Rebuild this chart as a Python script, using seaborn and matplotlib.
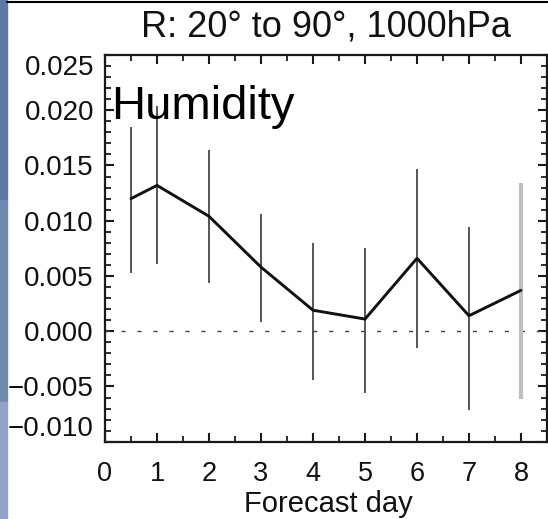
'''humidity forecast-day error plot'''
import pandas as pd
import seaborn as sns
import matplotlib.pyplot as plt
from matplotlib import ticker
from matplotlib.patches import Rectangle
from matplotlib.lines import Line2D

#region data
forecast_day = [0.5, 1, 2, 3, 4, 5, 6, 7, 8]
humidity_mean = [0.0120, 0.0132, 0.0104, 0.0058, 0.0019, 0.0011, 0.0066, 0.0014, 0.0037]
humidity_upper = [0.0185, 0.0204, 0.0164, 0.0106, 0.0080, 0.0075, 0.0147, 0.0094, 0.0134]
humidity_lower = [0.0053, 0.0061, 0.0044, 0.0008, -0.0044, -0.0056, -0.0015, -0.0071, -0.0061]

day_ticks = [0, 1, 2, 3, 4, 5, 6, 7, 8]
value_ticks = [-0.010, -0.005, 0.000, 0.005, 0.010, 0.015, 0.020, 0.025]

title = 'R: 20\u00b0 to 90\u00b0, 1000hPa'
panel_label = 'Humidity'
x_label = 'Forecast day'
#endregion

W, H = 548, 519

sns.set_style('ticks')
plt.rcParams['font.family'] = ['Liberation Sans', 'DejaVu Sans']

fig, ax = plt.subplots(figsize=(W / 100, H / 100), dpi=100)
fig.subplots_adjust(left=105 / W, right=547 / W, bottom=1 - 441.7 / H, top=1 - 55 / H)

df = pd.DataFrame({'day': forecast_day, 'mean': humidity_mean,
                   'lo': humidity_lower, 'hi': humidity_upper})

# zero line + error bars (last day drawn light grey)
ax.axhline(0, color='#444444', lw=1.0, ls=(0, (3, 8.5)), zorder=1)
ax.vlines(df['day'][:-1], df['lo'][:-1], df['hi'][:-1], color='#555555', lw=1.4, zorder=2)
ax.vlines(df['day'][-1:], df['lo'][-1:], df['hi'][-1:], color='#c0c0c0', lw=3, zorder=2)
sns.lineplot(data=df, x='day', y='mean', color='#111111', lw=2.1, ax=ax, zorder=3)

ax.set_xlim(0, 8.5)
ax.set_ylim(-0.010, 0.025)
ax.set_xticks(day_ticks)
ax.set_xticklabels([str(d) for d in day_ticks])
ax.set_yticks(value_ticks)
ax.set_yticklabels([f'{v:.3f}'.replace('-', '\u2212') for v in value_ticks])
ax.xaxis.set_minor_locator(ticker.MultipleLocator(0.5))
ax.yaxis.set_minor_locator(ticker.MultipleLocator(0.001))
ax.set_xlabel('')
ax.set_ylabel('')

ax.tick_params(which='both', direction='in', top=True, right=True, bottom=True, left=True,
               color='#1a1a1a')
ax.tick_params(which='major', length=6.5, width=1.5)
ax.tick_params(which='minor', length=4, width=1.3)
ax.tick_params(axis='x', which='major', labelsize=19.5, pad=14, labelcolor='#111111')
ax.tick_params(axis='y', which='major', labelsize=20, pad=8, labelcolor='#111111')
for s in ax.spines.values():
    s.set_linewidth(1.6)
    s.set_color('#1a1a1a')

ylabels = ax.get_yticklabels()
ylabels[0].set_va('bottom')
ylabels[-1].set_va('top')

ax.set_title(title, fontsize=26, pad=13, color='#111111')
fig.text(111 / W, 1 - 119 / H, panel_label, fontsize=34, ha='left', va='baseline', color='black')
fig.text(328.5 / W, 1 - 511.7 / H, x_label, fontsize=21, ha='center', va='baseline', color='#111111')

# slide remnants: blue strip on the left, border on top
for y0, y1, c in [(0, 200, '#5b79a4'), (200, 402, '#7089b0'), (402, 519, '#8ea3c5')]:
    fig.patches.append(Rectangle((0, 1 - y1 / H), 7 / W, (y1 - y0) / H,
                                 transform=fig.transFigure, color=c, zorder=0))
fig.lines.append(Line2D([7 / W, 1], [1 - 1.6 / H] * 2, transform=fig.transFigure, color='black', lw=1.5))

fig.savefig('out.png', dpi=100)
